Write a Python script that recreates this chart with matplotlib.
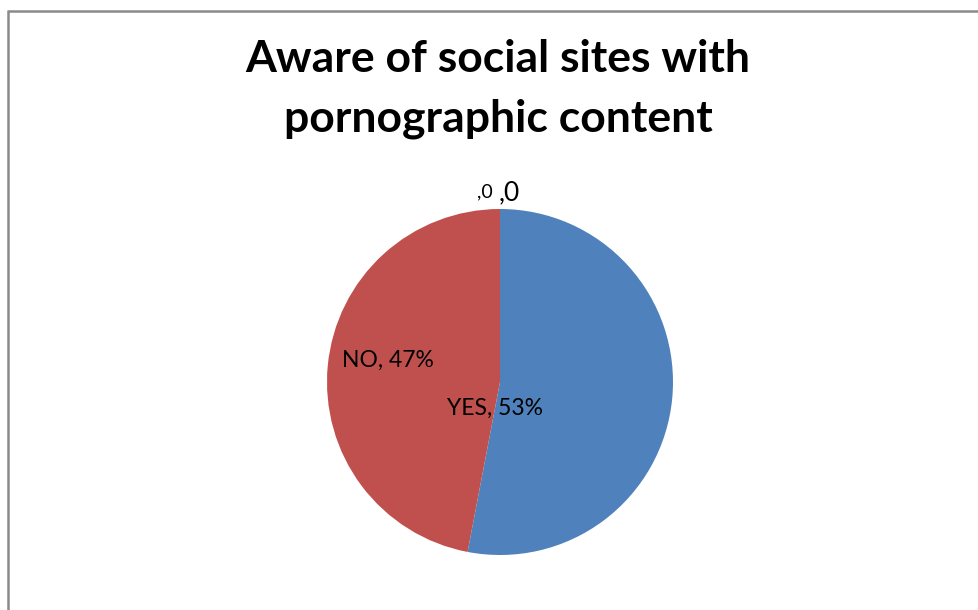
import matplotlib
matplotlib.use("Agg")
import matplotlib.pyplot as plt
from matplotlib.lines import Line2D

# Survey responses
categories = ["YES", "NO", "", ""]
values = [53, 47, 0, 0]
colors = ["#4F81BD", "#C0504D", "#9BBB59", "#8064A2"]
title = "Aware of social sites with\npornographic content"

W, H = 979, 610
fig = plt.figure(figsize=(W / 100, H / 100), dpi=100)
fig.patch.set_facecolor("white")

# chart frame (left and top edges visible)
frame_col = "#8a8a8a"
fig.add_artist(Line2D([8.5 / W, 8.5 / W], [0, 1 - 10 / H], transform=fig.transFigure,
                      color=frame_col, lw=1.8, solid_capstyle="butt"))
fig.add_artist(Line2D([7.6 / W, 1], [1 - 11 / H, 1 - 11 / H], transform=fig.transFigure,
                      color=frame_col, lw=1.8, solid_capstyle="butt"))

fig.text(498 / W, 1 - 89 / H, title, ha="center", va="center", fontsize=32,
         fontweight="bold", family="Lato", linespacing=1.6)

cx, cy, r = 500, 382, 173
ax = fig.add_axes([(cx - r) / W, (H - cy - r) / H, 2 * r / W, 2 * r / H])
wedges, _ = ax.pie(values, colors=colors, startangle=90, counterclock=False,
                   radius=1.0, wedgeprops=dict(linewidth=0))
ax.set_xlim(-1, 1)
ax.set_ylim(-1, 1)
ax.axis("off")

def lab(i):
    if categories[i]:
        return f"{categories[i]}, {values[i]}%"
    return f",{values[i]}"

label_font = dict(family="Lato", color="black", clip_on=False, ha="center", va="center")
ax.text(-0.029, -0.150, lab(0), fontsize=16.5, **label_font)
ax.text(-0.647, 0.127, lab(1), fontsize=16.5, **label_font)
ax.text(-0.087, 1.10, lab(2), fontsize=14, **label_font)
ax.text(0.052, 1.095, lab(3), fontsize=19, **label_font)

fig.savefig("out.png", dpi=100, facecolor="white")
